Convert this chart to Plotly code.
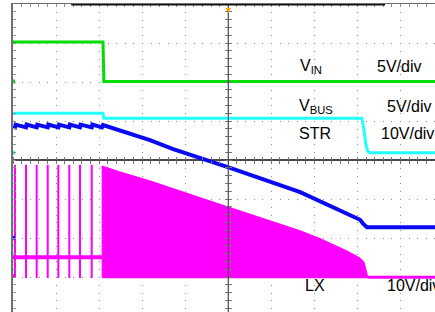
import plotly.graph_objects as go

# ---- channel setup (screen divisions: 10 horiz, 8 vert, centre = 0) ----
CH_NAMES = ["VIN", "VBUS", "STR", "LX"]
CH_COLORS = ["#00dd00", "#22ffff", "#0a0af2", "#ff00ff"]
CH_SCALE = [5.0, 5.0, 10.0, 10.0]          # V/div
CH_GROUND = [2.013, 0.187, -1.992, -2.974]  # ground marker position (div)

# ---- data: time in divisions, voltage in volts ----
VIN_T = [0, 2.09, 2.11, 9.8]
VIN_V = [5.05, 5.05, 0.0, 0.0]

VBUS_T = [0, 2.09, 2.11, 8.10, 8.15, 8.19, 8.24, 8.30, 9.8]
VBUS_V = [5.05, 5.05, 4.41, 4.41, 3.0, 1.2, 0.15, 0.0, 0.0]

STR_T = [0, 0.046, 0.06, 0.302, 0.316, 0.55, 0.564, 0.806, 0.82, 1.052, 1.066,
         1.307, 1.321, 1.556, 1.57, 1.828, 1.842, 2.066, 2.09, 3.18, 3.72, 4.99,
         6.67, 7.06, 7.59, 8.06, 8.13, 8.22, 8.30, 9.8]
STR_V = [28.5, 28.3, 29.0, 28.3, 29.0, 28.3, 29.0, 28.3, 29.0, 28.3, 29.0,
         28.3, 29.0, 28.3, 29.0, 28.3, 29.0, 28.3, 28.9, 25.0, 22.7, 18.1,
         11.7, 9.7, 6.8, 4.6, 3.6, 2.7, 2.7, 2.7]

LX_IDLE = 4.8
LX_SPIKE_HI = 28.5
LX_SPIKE_LO = -0.5
LX_SPIKE_T = [0.046, 0.302, 0.55, 0.806, 1.052, 1.307, 1.556, 1.828]
LX_BURST_START = 2.07
LX_ENV_T = [2.07, 2.48, 3.18, 4.34, 4.99, 5.50, 6.20, 6.67, 7.13, 7.76, 8.06, 8.15, 8.20, 8.24]
LX_ENV_V = [28.2, 26.7, 24.4, 20.1, 17.7, 15.8, 13.4, 11.6, 9.6, 6.4, 4.6, 3.6, 1.5, -0.3]
LX_BOTTOM = -0.45
LX_TAIL_T = [8.24, 9.8]
LX_TAIL_V = [-0.3, -0.3]

LABELS = ["V<sub>IN</sub>", "V<sub>BUS</sub>", "STR", "LX"]
SCALE_LABELS = ["5V/div", "5V/div", "10V/div", "10V/div"]

X_RANGE = [0, 9.80]
Y_RANGE = [-3.897, 4.0]


def to_div(vals, ch):
    return [CH_GROUND[ch] + v / CH_SCALE[ch] for v in vals]


fig = go.Figure()

# LX idle baseline
fig.add_trace(go.Scatter(x=[0, LX_BURST_START], y=to_div([LX_IDLE, LX_IDLE], 3), mode="lines",
                         line=dict(color=CH_COLORS[3], width=4)))
# LX switching spikes
sp_t, sp_v = [], []
for t in LX_SPIKE_T:
    sp_t += [t, t, None]
    sp_v += [LX_SPIKE_HI, LX_SPIKE_LO, None]
sp_y = [None if v is None else CH_GROUND[3] + v / CH_SCALE[3] for v in sp_v]
fig.add_trace(go.Scatter(x=sp_t, y=sp_y, mode="lines",
                         line=dict(color=CH_COLORS[3], width=2)))
# LX burst (filled envelope)
poly_t = [LX_BURST_START] + LX_ENV_T + [LX_ENV_T[-1], LX_BURST_START]
poly_v = [LX_BOTTOM] + LX_ENV_V + [LX_BOTTOM, LX_BOTTOM]
fig.add_trace(go.Scatter(x=poly_t, y=to_div(poly_v, 3), mode="lines", fill="toself",
                         fillcolor=CH_COLORS[3], line=dict(color=CH_COLORS[3], width=1)))
fig.add_trace(go.Scatter(x=LX_TAIL_T, y=to_div(LX_TAIL_V, 3), mode="lines",
                         line=dict(color=CH_COLORS[3], width=3)))

fig.add_trace(go.Scatter(x=STR_T, y=to_div(STR_V, 2), mode="lines",
                         line=dict(color=CH_COLORS[2], width=4)))
fig.add_trace(go.Scatter(x=VBUS_T, y=to_div(VBUS_V, 1), mode="lines",
                         line=dict(color=CH_COLORS[1], width=3)))
fig.add_trace(go.Scatter(x=VIN_T, y=to_div(VIN_V, 0), mode="lines",
                         line=dict(color=CH_COLORS[0], width=3)))

# ground markers on the left edge
fig.add_trace(go.Scatter(x=[0] * 4, y=CH_GROUND, mode="markers", cliponaxis=False,
                         marker=dict(symbol="square", size=4, color=CH_COLORS, line=dict(width=0))))

# dummy traces for centre tick axes
fig.add_trace(go.Scatter(x=[None], y=[None], xaxis="x2", yaxis="y2", showlegend=False))
fig.add_trace(go.Scatter(x=[None], y=[None], xaxis="x3", yaxis="y3", showlegend=False))

# labels
lab_y = [2.41, 1.38, 0.69, -3.21]
lab_x = [6.62, 6.60, 6.60, 6.73]
sc_x = [8.40, 8.64, 8.50, 8.64]
font = dict(family="Liberation Sans, Arial", size=16, color="black")
for i in range(4):
    fig.add_annotation(x=lab_x[i], y=lab_y[i], text=LABELS[i], showarrow=False,
                       xanchor="left", yanchor="middle", font=font)
    fig.add_annotation(x=sc_x[i], y=lab_y[i], text=SCALE_LABELS[i], showarrow=False,
                       xanchor="left", yanchor="middle", font=font)

# trigger marker
fig.add_annotation(x=5, y=4.0, text="▼", showarrow=False, yanchor="top", yshift=3,
                   font=dict(size=9, color="#ff9a00"))

# centre vertical line, record bar
fig.add_shape(type="line", x0=5, x1=5, y0=Y_RANGE[0], y1=Y_RANGE[1],
              line=dict(color="#4a4a4a", width=1.2), layer="above")
fig.add_shape(type="line", x0=1.35, x1=8.64, y0=4.0, y1=4.0,
              line=dict(color="#111111", width=3), layer="above")

grid_common = dict(showticklabels=False, zeroline=False, automargin=False)
fig.update_layout(
    width=435, height=312,
    margin=dict(l=13, r=0, t=4, b=0, autoexpand=False),
    paper_bgcolor="white", plot_bgcolor="white",
    showlegend=False,
    xaxis=dict(range=X_RANGE, tick0=0, dtick=1, side="top", showgrid=True,
               gridcolor="#8a8a8a", griddash="1px,6.8px", gridwidth=1,
               showline=True, linecolor="#707070", linewidth=1.5,
               ticks="inside", ticklen=3, tickcolor="#909090",
               minor=dict(dtick=0.2, tick0=0, ticks="inside", ticklen=3, tickcolor="#909090", showgrid=False),
               fixedrange=True, **grid_common),
    yaxis=dict(range=Y_RANGE, tick0=0, dtick=1, side="left", showgrid=True,
               gridcolor="#8a8a8a", griddash="1px,7.6px", gridwidth=1,
               showline=True, linecolor="#707070", linewidth=2,
               ticks="inside", ticklen=3, tickcolor="#909090",
               minor=dict(dtick=0.2, tick0=0, ticks="inside", ticklen=3, tickcolor="#909090", showgrid=False),
               zeroline=True, zerolinecolor="#4a4a4a", zerolinewidth=1.2,
               showticklabels=False, fixedrange=True, automargin=False),
    xaxis2=dict(range=X_RANGE, overlaying="x", anchor="free", position=3.897 / 7.897, side="bottom",
                tick0=0, dtick=0.2, ticks="outside", ticklen=3, tickcolor="#777777",
                showline=False, showgrid=False, fixedrange=True, **grid_common),
    xaxis3=dict(range=X_RANGE, overlaying="x", anchor="free", position=3.897 / 7.897, side="top",
                tick0=0, dtick=0.2, ticks="outside", ticklen=3, tickcolor="#777777",
                showline=False, showgrid=False, fixedrange=True, **grid_common),
    yaxis2=dict(range=Y_RANGE, overlaying="y", anchor="free", position=5 / 9.80, side="left",
                tick0=0, dtick=0.2, ticks="outside", ticklen=3, tickcolor="#777777",
                showline=False, showgrid=False, fixedrange=True, **grid_common),
    yaxis3=dict(range=Y_RANGE, overlaying="y", anchor="free", position=5 / 9.80, side="right",
                tick0=0, dtick=0.2, ticks="outside", ticklen=3, tickcolor="#777777",
                showline=False, showgrid=False, fixedrange=True, **grid_common),
)
fig.update_traces(hoverinfo="skip", selector=dict(type="scatter"))

fig.write_html("out.html", config={"displayModeBar": False, "staticPlot": True},
               post_script="document.body.style.margin='0';document.body.style.overflow='hidden';")
